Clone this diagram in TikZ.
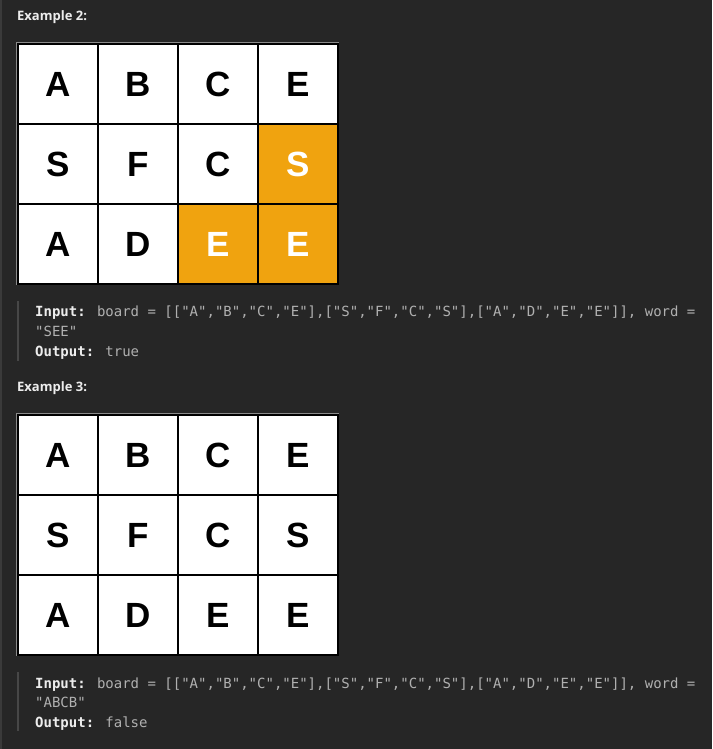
\documentclass[tikz,border=0pt]{standalone}
\usepackage{fontspec}
\setmainfont{Liberation Sans}
\newfontfamily\headfont{Open Sans}
\newfontfamily\codefont{DejaVu Sans Mono}

\definecolor{pagebg}{HTML}{262626}
\definecolor{edgegray}{HTML}{3A3A3A}
\definecolor{framegray}{HTML}{8A8A8A}
\definecolor{hitorange}{HTML}{F0A30F}
\definecolor{codegray}{HTML}{B0B0B0}
\definecolor{codewhite}{HTML}{EDEDED}
\definecolor{bargray}{HTML}{474747}

\begin{document}
\begin{tikzpicture}[x=1pt, y=-1pt,
    cell/.style={draw=black, line width=2pt, fill=white, minimum size=80pt,
      inner sep=0pt, text=black, font=\fontsize{35}{35}\selectfont\bfseries},
    hit/.style={cell, fill=hitorange, text=white},
    head/.style={anchor=west, inner sep=0pt, text=codewhite,
      font=\headfont\fontsize{13}{13}\selectfont\bfseries},
    code/.style={anchor=base west, inner sep=0pt, text=codegray,
      font=\codefont\fontsize{14}{14}\selectfont},
    quotebar/.style={bargray, line width=2pt},
    frame/.style={framegray, line width=1.5pt}]
  \fill[pagebg] (0,0) rectangle (712,749);
  \useasboundingbox (0,0) rectangle (712,749);
  \draw[edgegray, line width=2pt] (1,0) -- (1,749);

  % example 2
  \node[head] (ex2) at (17,17) {Example 2:};
  \draw[frame] (17,285) -- (17,43) -- (339,43);
  \foreach \row [count=\r from 0] in {{A,B,C,E},{S,F,C,S},{A,D,E,E}} {
    \foreach \ch [count=\c from 0] in \row {
      \pgfmathtruncatemacro\ishit{(\r==1 && \c==3) || (\r==2 && \c>1)}
      \ifnum\ishit=1
        \node[hit] (b2-\r-\c) at (58+80*\c, 84+80*\r) {\ch};
      \else
        \node[cell] (b2-\r-\c) at (58+80*\c, 84+80*\r) {\ch};
      \fi
    }
  }
  \coordinate (bar2top) at (18,301);
  \coordinate (bar2bot) at (18,361);
  \draw[quotebar] (bar2top) -- (bar2bot);
  \node[code] (in2) at (35,316) {{\bfseries\color{codewhite}Input:} board = [["A","B","C","E"],["S","F","C","S"],["A","D","E","E"]], word =};
  \node[code] (word2) at (35,336) {"SEE"};
  \node[code] (out2) at (35,356) {{\bfseries\color{codewhite}Output:} true};

  % example 3
  \node[head] (ex3) at (17,388) {Example 3:};
  \draw[frame] (17,656) -- (17,414) -- (339,414);
  \foreach \row [count=\r from 0] in {{A,B,C,E},{S,F,C,S},{A,D,E,E}} {
    \foreach \ch [count=\c from 0] in \row {
      \node[cell] (b3-\r-\c) at (58+80*\c, 455+80*\r) {\ch};
    }
  }
  \coordinate (bar3top) at (18,672);
  \coordinate (bar3bot) at (18,731);
  \draw[quotebar] (bar3top) -- (bar3bot);
  \node[code] (in3) at (35,688) {{\bfseries\color{codewhite}Input:} board = [["A","B","C","E"],["S","F","C","S"],["A","D","E","E"]], word =};
  \node[code] (word3) at (35,707) {"ABCB"};
  \node[code] (out3) at (35,727) {{\bfseries\color{codewhite}Output:} false};
\end{tikzpicture}
\end{document}
